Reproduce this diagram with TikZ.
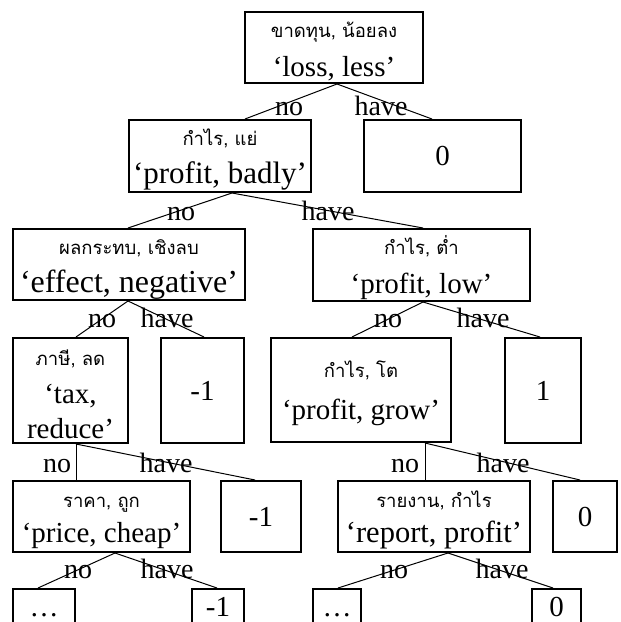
\documentclass[tikz,border=0pt]{standalone}
\usepackage{fontspec}
\setmainfont{Liberation Serif}
\newfontfamily\thaifont[Script=Thai]{Loma}
\newcommand{\thtxt}[1]{{\thaifont\fontsize{18.5}{22}\selectfont\rule{0pt}{24pt}#1}}
\begin{document}
\begin{tikzpicture}[x=1pt,y=-1pt,
  box/.style={draw, line width=2pt, inner sep=0pt, align=center,
    font=\fontsize{29}{35}\selectfont},
  lab/.style={anchor=base, inner sep=0pt, font=\fontsize{28}{30}\selectfont},
  edge/.style={line width=1pt}]
\useasboundingbox (0,0) rectangle (621,622);
\clip (0,0) rectangle (621,622);
% level 1
\node[box, minimum width=178, minimum height=71] (root) at (334,47.5) {\thtxt{ขาดทุน, น้อยลง}\\[4pt]‘loss, less’};
% level 2
\node[box, minimum width=182, minimum height=72, font=\fontsize{31}{36}\selectfont] (pb) at (220,156) {\thtxt{กำไร, แย่}\\[2pt]‘profit, badly’};
\node[box, minimum width=157, minimum height=72] (z1) at (442.5,156) {0};
% level 3
\node[box, minimum width=232, minimum height=71, font=\fontsize{32}{36}\selectfont] (en) at (129,264.5) {\thtxt{ผลกระทบ, เชิงลบ}\\[2pt]‘effect, negative’};
\node[box, minimum width=217, minimum height=72] (pl) at (421.5,265) {\thtxt{กำไร, ต่ำ}\\[4pt]‘profit, low’};
% level 4
\node[box, minimum width=115, minimum height=105] (tr) at (70.5,390.5) {\thtxt{ภาษี, ลด}\\[3pt]‘tax,\\reduce’};
\node[box, minimum width=83, minimum height=105] (m1) at (202.5,390.5) {-1};
\node[box, minimum width=180, minimum height=104] (pg) at (361,390) {\thtxt{กำไร, โต}\\[7pt]‘profit, grow’};
\node[box, minimum width=76, minimum height=105] (p1) at (543,390.5) {1};
% level 5
\node[box, minimum width=177, minimum height=71] (pc) at (101.5,516.5) {\thtxt{ราคา, ถูก}\\[0pt]‘price, cheap’};
\node[box, minimum width=80, minimum height=71] (m2) at (261,516.5) {-1};
\node[box, minimum width=192, minimum height=71, font=\fontsize{30.5}{35}\selectfont] (rp) at (434,516.5) {\thtxt{รายงาน, กำไร}\\[0pt]‘report, profit’};
\node[box, minimum width=64, minimum height=71] (z2) at (585,516.5) {0};
% level 6
\node[box, anchor=north, minimum width=62, text height=27pt, text depth=40pt] (d1) at (44,588) {\dots};
\node[box, anchor=north, minimum width=52, text height=27pt, text depth=40pt] (m3) at (218,588) {-1};
\node[box, anchor=north, minimum width=48, text height=27pt, text depth=40pt] (d2) at (337,588) {\dots};
\node[box, anchor=north, minimum width=49, text height=27pt, text depth=40pt] (z3) at (556.5,588) {0};
% edges
\draw[edge] ([xshift=3pt]root.south) -- ([xshift=25pt]pb.north);
\draw[edge] ([xshift=3pt]root.south) -- ([xshift=-10.5pt]z1.north);
\draw[edge] ([xshift=12pt]pb.south) -- ([xshift=-1pt]en.north);
\draw[edge] ([xshift=12pt]pb.south) -- ([xshift=1.5pt]pl.north);
\draw[edge] ([xshift=-1pt]en.south) -- ([xshift=5.5pt]tr.north);
\draw[edge] ([xshift=-1pt]en.south) -- ([xshift=1.5pt]m1.north);
\draw[edge] ([xshift=1.5pt]pl.south) -- ([xshift=-9pt]pg.north);
\draw[edge] ([xshift=1.5pt]pl.south) -- ([xshift=-3pt]p1.north);
\draw[edge] ([xshift=5.5pt]tr.south) -- ([xshift=-25.5pt]pc.north);
\draw[edge] ([xshift=5.5pt]tr.south) -- ([xshift=-6pt]m2.north);
\draw[edge] ([xshift=64pt]pg.south) -- ([xshift=-9pt]rp.north);
\draw[edge] ([xshift=64pt]pg.south) -- ([xshift=-5pt]z2.north);
\draw[edge] ([xshift=13.5pt]pc.south) -- ([xshift=-6pt]d1.north);
\draw[edge] ([xshift=13.5pt]pc.south) -- ([xshift=-1pt]m3.north);
\draw[edge] ([xshift=14pt]rp.south) -- ([xshift=1pt]d2.north);
\draw[edge] ([xshift=14pt]rp.south) -- ([xshift=-3.5pt]z3.north);
% labels
\node[lab] (n1) at (289,115) {no};
\node[lab] (h1) at (381,115) {have};
\node[lab] (n2) at (181,220) {no};
\node[lab] (h2) at (328,220) {have};
\node[lab] (n3) at (102,327) {no};
\node[lab] (h3) at (167,327) {have};
\node[lab] (n4) at (388,327) {no};
\node[lab] (h4) at (483,327) {have};
\node[lab] (n5) at (57,472) {no};
\node[lab] (h5) at (166,472) {have};
\node[lab] (n6) at (405,472) {no};
\node[lab] (h6) at (503,472) {have};
\node[lab] (n7) at (78,578) {no};
\node[lab] (h7) at (167,578) {have};
\node[lab] (n8) at (394,578) {no};
\node[lab] (h8) at (502,578) {have};
\end{tikzpicture}
\end{document}
